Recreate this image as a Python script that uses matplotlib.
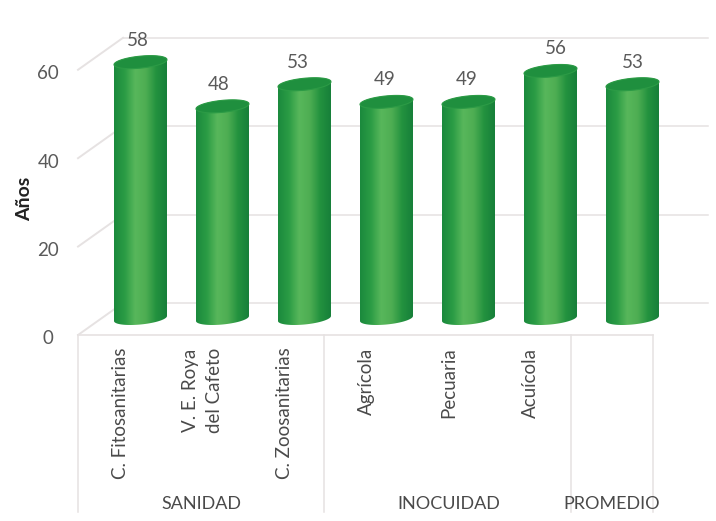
import numpy as np
import matplotlib
matplotlib.use("Agg")
import matplotlib.pyplot as plt
from matplotlib.colors import LinearSegmentedColormap
from matplotlib.path import Path
from matplotlib.patches import PathPatch
from matplotlib.transforms import ScaledTranslation, IdentityTransform

plt.rcParams['font.family'] = ['Lato', 'DejaVu Sans']

categorias = ["C. Fitosanitarias", "V. E. Roya\ndel Cafeto", "C. Zoosanitarias",
              "Agrícola", "Pecuaria", "Acuícola", ""]
valores = [58, 48, 53, 49, 49, 56, 53]
grupos = ["SANIDAD", "INOCUIDAD", "PROMEDIO"]
ticks = [0, 20, 40, 60]

# posiciones de los textos
grupo_x = [0.74, 3.76, 5.75]
etiqueta_dx = [-2.5, -4, -7, -1.5, -1.5, 5, 0]
separadores = [-0.762, 2.24, 5.25, 6.25]

W, H = 716, 521
PX_X = 82.0      # pixeles por categoria
PX_Y = 4.42      # pixeles por unidad
X0, Y0 = 140.5, 318.5

fig = plt.figure(figsize=(W / 100, H / 100), dpi=100)
ax = fig.add_axes([0, 0, 1, 1])
ax.axis('off')
ax.set_xlim(-X0 / PX_X, (W - X0) / PX_X)
ax.set_ylim(-(H - Y0) / PX_Y, Y0 / PX_Y)


def desplazado(dx, dy):
    # dx, dy en pixeles de la imagen (dy hacia arriba)
    return ax.transData + ScaledTranslation(dx / 100, dy / 100, fig.dpi_scale_trans)


gris = '#e6e2e2'
texto = '#4a4a4a'
fondo = desplazado(0, 15.5)
frente = desplazado(0, -16.5)

# paredes: lineas del fondo y diagonales hacia el frente
for t in ticks:
    ax.plot([-0.213, 6.92], [t, t], color=gris, lw=1.1, transform=fondo, zorder=1)
    p0 = frente.transform((-0.762, t))
    p1 = fondo.transform((-0.213, t))
    ax.plot([p0[0], p1[0]], [p0[1], p1[1]], color=gris, lw=1.4,
            transform=IdentityTransform(), zorder=1)
    ax.text(-1.125, t, str(t), ha='center', va='center', color='#5a5a5a', fontsize=13.5,
            transform=desplazado(0, -20.5))

# piso y separadores de categorias
ax.plot([separadores[0], separadores[-1]], [0, 0], color=gris, lw=1.2, transform=frente, zorder=1)
for s in separadores:
    ax.plot([s, s], [0, -40], color=gris, lw=1.1, transform=frente, zorder=1)

cmap = LinearSegmentedColormap.from_list(
    'cil', ['#1b8a3d', '#2b9c45', '#58b75b', '#4eae53', '#23923f', '#17803a'])
grad = np.linspace(0, 1, 64).reshape(1, -1)

a = 26.5 / PX_X      # semieje en x
b = 6.0 / PX_Y       # semieje en y
k = 2.5 / PX_Y       # inclinacion de la elipse
t_ab = np.linspace(np.pi, 2 * np.pi, 40)
t_ar = np.linspace(0, np.pi, 40)
t_all = np.linspace(0, 2 * np.pi, 80)

for i, v in enumerate(valores):
    xb = i + a * np.cos(t_ab)
    yb = b * np.sin(t_ab) + k * np.cos(t_ab)
    xt = i + a * np.cos(t_ar)
    yt = v + b * np.sin(t_ar) + k * np.cos(t_ar)
    cuerpo = Path(np.column_stack([np.r_[xb, xt], np.r_[yb, yt]]))
    parche = PathPatch(cuerpo, fc='none', ec='none', transform=ax.transData)
    ax.add_patch(parche)
    im = ax.imshow(grad, cmap=cmap, extent=(i - a, i + a, -3, v + 3), aspect='auto', zorder=3)
    im.set_clip_path(parche)

    tapa = Path(np.column_stack([i + a * np.cos(t_all),
                                 v + b * np.sin(t_all) + k * np.cos(t_all)]))
    ax.add_patch(PathPatch(tapa, fc='#1f8f3e', ec='#2c9b46', lw=0.8, zorder=4))
    ax.text(i, v, str(v), ha='center', va='center', color='#5a5a5a', fontsize=13.5,
            transform=desplazado(etiqueta_dx[i], 22), zorder=5)

for i, c in enumerate(categorias):
    ax.text(i, 0, c, rotation=90, ha='center', va='top', color=texto, fontsize=13.5,
            linespacing=1.45, transform=desplazado(-20, -29), multialignment='center')

for g, x in zip(grupos, grupo_x):
    ax.text(x, -42, g, ha='center', va='center', color=texto, fontsize=13,
            transform=desplazado(0, 0))

ax.text(-1.41, 27, "Años", rotation=90, ha='center', va='center', color='#222222',
        fontsize=14, fontweight='bold')

ax.set_xlim(-X0 / PX_X, (W - X0) / PX_X)
ax.set_ylim(-(H - Y0) / PX_Y, Y0 / PX_Y)

fig.savefig('out.png', dpi=100)
